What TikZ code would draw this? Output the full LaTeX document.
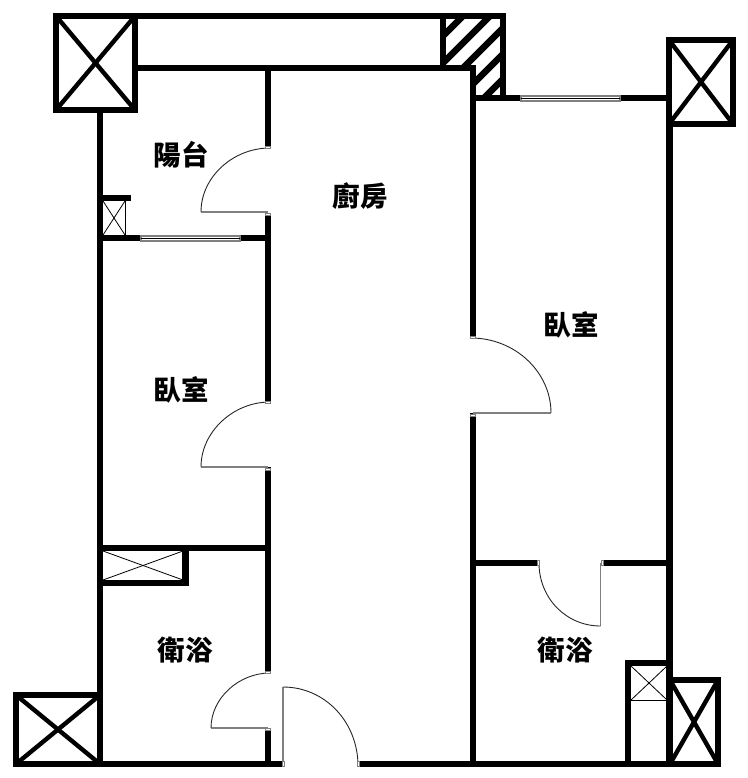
\documentclass[tikz,border=0pt]{standalone}
\usepackage{fontspec}
\usepackage{tikz}
\newfontfamily\cjk{Noto Sans CJK TC}

\begin{document}
\begin{tikzpicture}[x=1pt,y=-1pt,wl/.style={draw,line width=6.4pt,line join=miter},
dg/.style={draw,line width=4.4pt},tn/.style={draw,line width=.8pt},
lf/.style={draw=gray,line width=1.1pt},sw/.style={draw=black!85,line width=.9pt},
jb/.style={draw=gray,fill=white,line width=.4pt},wn/.style={draw=gray,fill=white,line width=1.2pt},
rm/.style={inner sep=0pt,text=black,font=\cjk\bfseries\fontsize{27.5}{27.5}\selectfont}]
\useasboundingbox (0,0) rectangle (747,778);
% shaft with hatching
\begin{scope}
  \clip (446,19) -- (500,19) -- (500,95) -- (476,95) -- (476,65) -- (446,65) -- cycle;
  \draw[line width=6.4pt] (440,39) -- (510,-31);
  \draw[line width=6.4pt] (440,66) -- (510,-4);
  \draw[line width=6.4pt] (440,91) -- (510,21);
  \draw[line width=6.4pt] (440,117) -- (510,47);
  \draw[line width=6.4pt] (440,142) -- (510,72);
\end{scope}
% outer walls
\draw[wl] (135,16) -- (503,16) -- (503,98);
\draw[wl] (135,68) -- (476,68);
\draw[wl] (443,16) -- (443,68);
\draw[wl] (100,110) -- (100,767);
\draw[wl] (473,68) -- (473,338);
\draw[wl] (473,413) -- (473,767);
\draw[wl] (473,98) -- (521,98);
\draw[wl] (620,98) -- (667,98);
\draw[wl] (669.5,124) -- (669.5,767);
\draw[wl] (13,764) -- (283,764);
\draw[wl] (358,764) -- (721,764);
% inner walls
\draw[wl] (268,65) -- (268,147);
\draw[wl] (268,213) -- (268,403);
\draw[wl] (268,467) -- (268,673);
\draw[wl] (268,728) -- (268,764);
\draw[wl] (100,238) -- (141,238);
\draw[wl] (240,238) -- (271,238);
\draw[wl] (100,548) -- (271,548);
\draw[wl] (473,563) -- (539,563);
\draw[wl] (602,563) -- (672,563);
% corner boxes
\draw[wl] (56,16) rectangle (135,110);
\draw[dg] (56,16) -- (135,110);
\draw[dg] (135,16) -- (56,110);
\draw[wl] (669,40) rectangle (733,124);
\draw[dg] (669,40) -- (733,124);
\draw[dg] (733,40) -- (669,124);
\draw[wl] (16,695) rectangle (100,764);
\draw[dg] (16,695) -- (100,764);
\draw[dg] (100,695) -- (16,764);
\draw[wl] (670,680) rectangle (718,764);
\draw[dg] (670,680) -- (718,764);
\draw[dg] (718,680) -- (670,764);
% small ducts
\draw[wl] (100,198) -- (131,198);
\draw[tn] (125.5,201) -- (125.5,235);
\draw[tn] (103,201) -- (125,235);
\draw[tn] (125,201) -- (103,235);
\draw[wl] (100,583) -- (185.5,583) -- (185.5,548);
\draw[tn] (103,551) -- (183,580);
\draw[tn] (183,551) -- (103,580);
\draw[wl] (628,767) -- (628,663) -- (669,663);
\draw[tn] (631,700.5) -- (667,700.5);
\draw[tn] (631,666) -- (667,700);
\draw[tn] (667,666) -- (631,700);
% windows
\draw[wn] (141,236) rectangle (240,241);
\draw[line width=1.2pt] (141,238.5) -- (240,238.5);
\draw[wn] (521,96) rectangle (620,101);
\draw[line width=1.2pt] (521,98.5) -- (620,98.5);
% doors
\draw[lf] (201,212) -- (268,212);
\draw[sw] (270,148) .. controls (233,148) and (201,177) .. (201,212);
\draw[lf] (201,467) -- (268,467);
\draw[sw] (270,402) .. controls (233,402) and (201,432) .. (201,467);
\draw[lf] (211,728) -- (268,728);
\draw[sw] (270,673) .. controls (239,673) and (211,698) .. (211,728);
\draw[lf] (283,687) -- (283,766);
\draw[sw] (283,687) .. controls (325,687) and (358,722) .. (358,766);
\draw[lf] (473,413) -- (551,413);
\draw[sw] (471,338) .. controls (515,338) and (551,372) .. (551,413);
\draw[lf] (600.5,563) -- (600.5,626);
\draw[sw] (539,563) .. controls (539,598) and (566,626) .. (600.5,626);
% door jambs
\draw[jb] (265.5,146) rectangle (270.5,148);
\draw[jb] (265.5,213) rectangle (270.5,215);
\draw[jb] (265.5,401) rectangle (270.5,403);
\draw[jb] (265.5,468) rectangle (270.5,470);
\draw[jb] (265.5,671) rectangle (270.5,673);
\draw[jb] (265.5,728) rectangle (270.5,730);
\draw[jb] (470.5,336) rectangle (475.5,338);
\draw[jb] (470.5,414) rectangle (475.5,416);
\draw[jb] (282,761) rectangle (284,766.5);
\draw[jb] (357.5,761) rectangle (359.5,766.5);
\draw[jb] (537.5,560.5) rectangle (539.5,565.5);
\draw[jb] (601.5,560.5) rectangle (603.5,565.5);
% rooms
\node[rm] (balcony) at (181,155) {陽台};
\node[rm] (kitchen) at (360,196) {廚房};
\node[rm] (bedroomA) at (571,325) {臥室};
\node[rm] (bedroomB) at (181,390) {臥室};
\node[rm] (bathA) at (185,650) {衛浴};
\node[rm] (bathB) at (565,650) {衛浴};
\end{tikzpicture}
\end{document}
